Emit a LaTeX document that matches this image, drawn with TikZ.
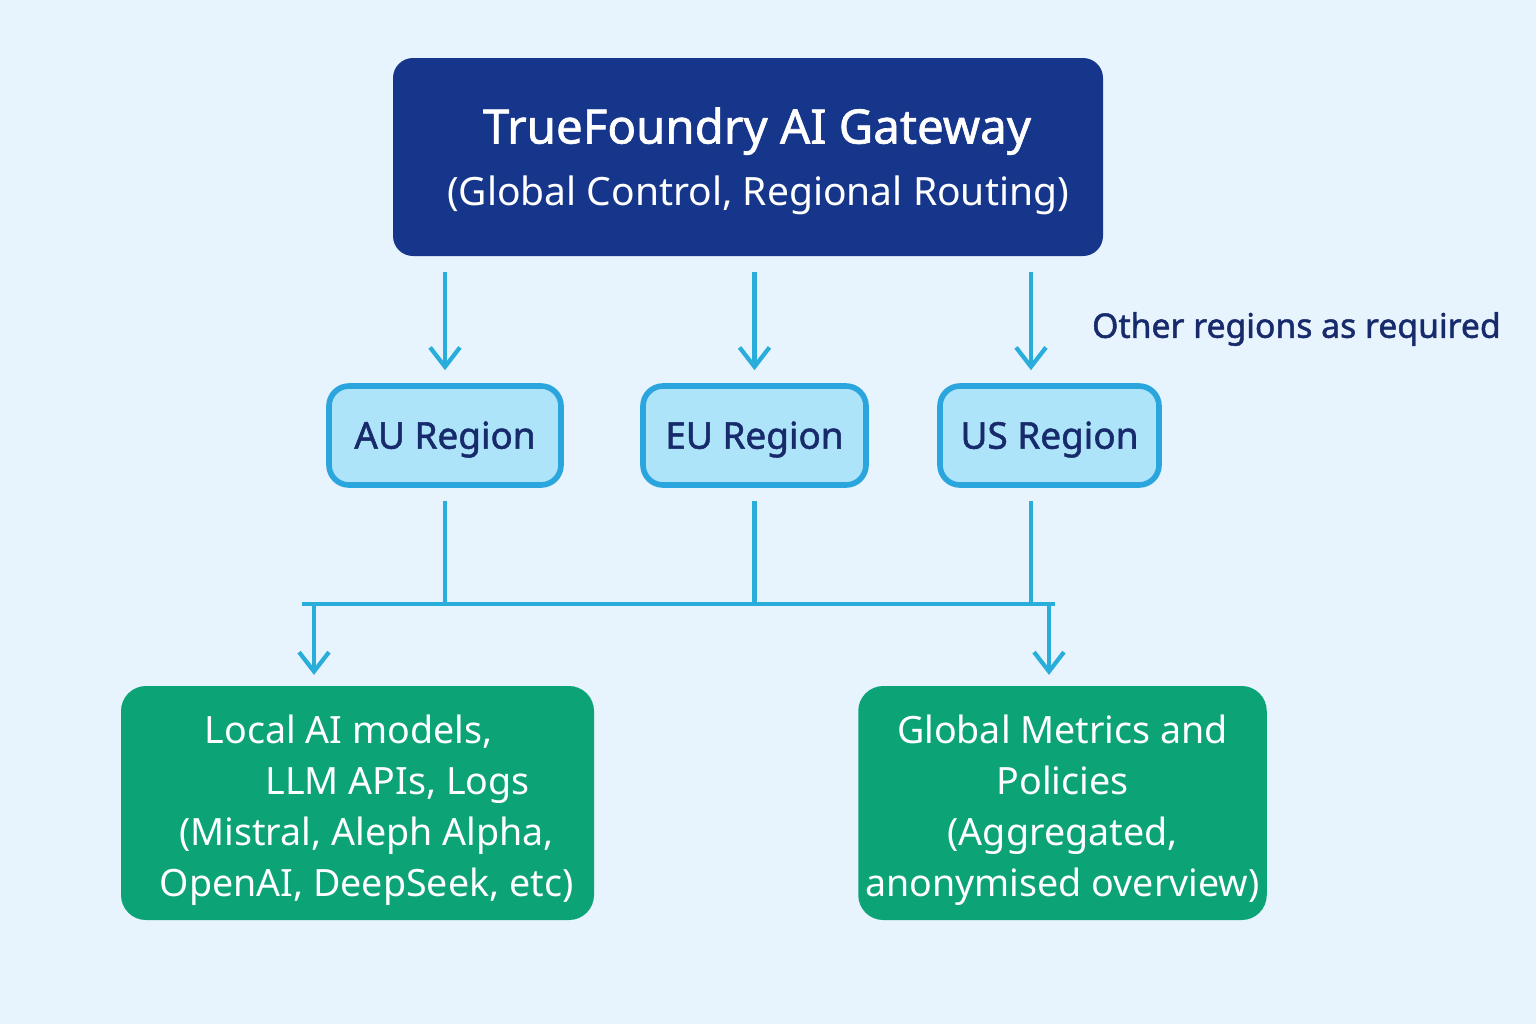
\documentclass[tikz,border=0pt]{standalone}
\usepackage{fontspec}
\setmainfont{Noto Sans}
\newfontfamily\medium[FakeBold=1.4]{Noto Sans}
\usetikzlibrary{arrows.meta}

\definecolor{pagebg}{HTML}{E7F3FD}
\definecolor{gwblue}{HTML}{15368A}
\definecolor{navytext}{HTML}{172A6B}
\definecolor{wire}{HTML}{29AEDC}
\definecolor{regionfill}{HTML}{AEE4F9}
\definecolor{regionline}{HTML}{2AA5DD}
\definecolor{sinkgreen}{HTML}{0CA377}

\begin{document}
\begin{tikzpicture}[>={Straight Barb[length=5.5pt,width=8.5pt,line width=1.2pt]},line width=1.2pt]

\tikzstyle{gateway}=[rectangle,rounded corners=0.2cm,fill=gwblue,text=white,minimum width=7.1cm,minimum height=1.98cm,align=center]
\tikzstyle{region}=[rectangle,rounded corners=0.2cm,draw=regionline,line width=1.6pt,fill=regionfill,text=navytext,minimum height=0.99cm,text height=9.5pt,text depth=2pt,font=\medium\fontsize{10.5}{12}\selectfont]
\tikzstyle{sink}=[rectangle,rounded corners=0.25cm,fill=sinkgreen,text=white,minimum height=2.34cm,inner sep=2pt,align=center,font=\fontsize{10.7}{14.5}\selectfont]
\tikzstyle{flow}=[->,draw=wire,shorten <=0.14cm,shorten >=0.13cm]
\tikzstyle{wireline}=[draw=wire]

\fill[pagebg] (0,0) rectangle (15.36,-10.24);
\useasboundingbox (0,0) rectangle (15.36,-10.24);

\node[gateway] (gw) at (7.48,-1.57) {\rule{0pt}{12.5pt}\hspace*{0.18cm}{\medium\fontsize{13.5}{16}\selectfont TrueFoundry AI Gateway}\\[5.5pt]
	\hspace*{0.2cm}{\fontsize{11.1}{13}\selectfont (Global Control, Regional Routing)}};

\node[region,minimum width=2.32cm] 	(au) at (4.45,-4.355)	{AU Region};
\node[region,minimum width=2.23cm] 	(eu) at (7.545,-4.355)	{EU Region};
\node[region,minimum width=2.19cm] 	(us) at (10.495,-4.355)	{US Region};

\node[text=navytext,anchor=west,inner sep=0pt,font=\medium\fontsize{9.6}{12}\selectfont] (other) at (10.90,-3.29) {Other regions as required};

\node[sink,minimum width=4.73cm] 	(local) at (3.575,-8.03)	{\rule{0pt}{12pt}\hspace*{0.18cm}Local AI models,\hspace*{0.36cm}\\ \hspace*{0.8cm}LLM APIs, Logs\\ \hspace*{0.18cm}(Mistral, Aleph Alpha,\\ \hspace*{0.18cm}OpenAI, DeepSeek, etc)};
\node[sink,minimum width=4.05cm] 	(global) at (10.625,-8.03)	{\rule{0pt}{12pt}Global Metrics and\\ Policies\\ (Aggregated,\\ anonymised overview)};

% gateway to regions
\path 	(gw.south -| au.north) 	edge[flow] (au.north)
		(gw.south -| eu.north) 	edge[flow] (eu.north)
		([xshift=-1.85mm]us.north |- gw.south) edge[flow] ([xshift=-1.85mm]us.north);

% shared bus
\coordinate (busL) at (3.02,-6.04);
\coordinate (busR) at (10.55,-6.04);
\coordinate (tapL) at (3.14,-6.04);
\coordinate (tapR) at (10.49,-6.04);

\draw[wireline] (busL) -- (busR);
\draw[wireline,shorten <=0.13cm] (au.south) -- (au.south |- busL);
\draw[wireline,shorten <=0.13cm] (eu.south) -- (eu.south |- busL);
\draw[wireline,shorten <=0.13cm] ([xshift=-1.85mm]us.south) -- ([xshift=-1.85mm]us.south |- busL);

\path 	(tapL) edge[flow,shorten <=0pt,shorten >=0.09cm] (tapL |- local.north)
		(tapR) edge[flow,shorten <=0pt,shorten >=0.09cm] (tapR |- global.north);
\end{tikzpicture}
\end{document}
